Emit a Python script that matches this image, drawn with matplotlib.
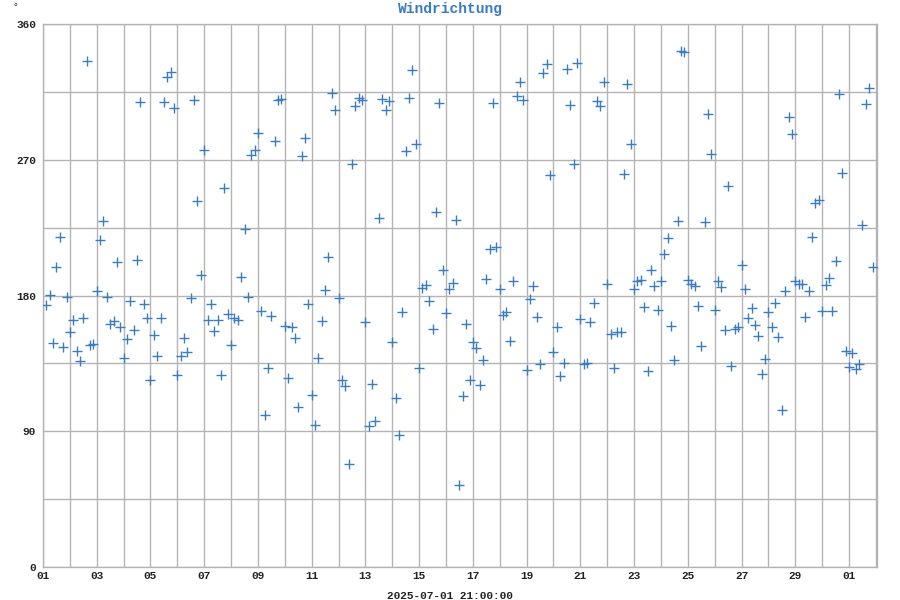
import matplotlib
matplotlib.use('Agg')
import matplotlib.pyplot as plt
import matplotlib.dates as mdates
from matplotlib.ticker import FixedLocator, MultipleLocator
import pandas as pd

# Wind direction (degrees), 3-hourly samples ending 2025-07-01 21:00
direction = [
    174, 180.5, 148.6, 198.7, 219, 145.8, 179.3, 156, 163.7, 143.5, 136.5, 165.4,
    335.4, 147.4, 148.1, 182.8, 216.6, 229.2, 178.9, 161.2, 163, 202.2, 158.8, 138.8,
    151.4, 176.5, 157.4, 203.3, 308.1, 174.2, 164.9, 124.1, 154, 139.7, 164.9, 308.1,
    325.1, 327.9, 304.6, 127.2, 139.7, 152.1, 142.8, 178.2, 309.8, 242.9, 193.3, 276.2, 163.7,
    174.2, 156.7, 163.7, 127.6, 251.5, 167.7, 147.4, 165.4, 163.7, 192.1, 223.8, 179.3,
    273.2, 276.7, 287.9, 170, 100.8, 131.8, 166.1, 282.5, 309.8, 310.5, 159.8, 125.3,
    158.8, 152.1, 106, 272.5, 284.6, 174.2, 114.1, 93.9, 138.6, 163, 183.5, 205.7,
    314.4, 303.2, 178.4, 124.1, 120.2, 68.2, 266.9, 305.5, 311.2, 309.8, 162.1, 93.2,
    121.1, 96.7, 231.7, 310.5, 302.8, 308.8, 149.5, 112, 87.8, 169.1, 276, 311.2,
    329.3, 280.6, 131.8, 185.2, 187, 176.1, 157.9, 235.2, 307.4, 196.8, 168.4, 184.6,
    188.6, 230.1, 54.3, 113.2, 161.2, 123.7, 149.5, 144.9, 120.6, 137, 191, 211,
    307.4, 212.4, 184.2, 167.2, 169.1, 150, 189.4, 312.1, 321.4, 309.8, 130.4, 177.8, 186,
    166, 134.6, 327.2, 333.5, 259.9, 142.3, 158.8, 126.5, 135.3, 330.2, 306.2, 266.9,
    334.2, 164.2, 134.6, 135.3, 162.5, 175.1, 308.8, 305.5, 321.4, 187.5, 154.4, 132.2,
    156, 156, 260.8, 320.5, 280.2, 184, 189.4, 190, 172.3, 130, 196.6, 186.6,
    170.3, 189.4, 207.7, 218, 159.8, 137, 229.6, 342.4, 341.4, 190.5, 187.7, 186.6, 173,
    146.3, 228.5, 300.2, 273.7, 170.5, 189.8, 185.9, 157, 252.9, 133.5, 158, 159.3,
    200.5, 184.5, 165.4, 171.9, 160.7, 153.2, 128.1, 137.6, 168.9, 158.8, 175.1, 152.8,
    103.9, 182.8, 298.3, 287.2, 189.4, 187.5, 187.5, 165.6, 183.3, 218.9, 241.1, 243.4,
    169.5, 187, 191.7, 170, 203.1, 313.9, 261.5, 143.2, 132.7, 142.1, 131.1, 134.6,
    226.6, 306.7, 317.4, 198.7,
]
end_time = '2025-07-01 21:00:00'
x_start = '2025-06-01 00:00'
x_end = '2025-07-02 01:00'
y_ticks = [0, 90, 180, 270, 360]
label_days = [1, 3, 5, 7, 9, 11, 13, 15, 17, 19, 21, 23, 25, 27, 29]

times = pd.date_range(end=end_time, periods=len(direction), freq='3h')

MONO = ['Liberation Mono', 'DejaVu Sans Mono']
BLUE = '#3b7cc0'
GRID = '#b4b4b4'

fig = plt.figure(figsize=(9, 6), dpi=100)
fig.patch.set_facecolor('white')
ax = fig.add_axes([43 / 900, 33 / 600, 834 / 900, 543 / 600])

ax.plot(times, direction, linestyle='none', marker='+', color=BLUE,
        markersize=6.5, markeredgewidth=1.0, zorder=3)

ax.set_ylim(0, 360)
ax.set_xlim(pd.Timestamp(x_start), pd.Timestamp(x_end))

ax.yaxis.set_major_locator(FixedLocator(y_ticks))
ax.yaxis.set_minor_locator(MultipleLocator(45))
ax.xaxis.set_major_locator(mdates.DayLocator(bymonthday=label_days))
ax.xaxis.set_minor_locator(mdates.DayLocator())
ax.xaxis.set_major_formatter(mdates.DateFormatter('%d'))

ax.grid(which='both', color=GRID, linewidth=1.0, zorder=0)
ax.set_axisbelow(True)
ax.tick_params(which='both', length=0)
ax.tick_params(axis='y', pad=5)
ax.tick_params(axis='x', pad=3)
for s in ax.spines.values():
    s.set_color(GRID)
    s.set_linewidth(1.0)

for lab in ax.get_xticklabels() + ax.get_yticklabels():
    lab.set_fontfamily(MONO)
    lab.set_fontweight('bold')
    lab.set_fontsize(8)
    lab.set_color('#222222')

fig.text(0.5, 0.997, 'Windrichtung', ha='center', va='top', color=BLUE,
         fontweight='bold', family=MONO, fontsize=10.5)
fig.text(13 / 900, 0.997, '°', ha='left', va='top', fontsize=7,
         family=MONO, color='#222222')
fig.text(450 / 900, 1 - 596 / 600, '2025-07-01 21:00:00', ha='center',
         va='center', fontsize=8, fontweight='bold', family=MONO, color='#222222')

fig.savefig('out.png', dpi=100, facecolor='white')
